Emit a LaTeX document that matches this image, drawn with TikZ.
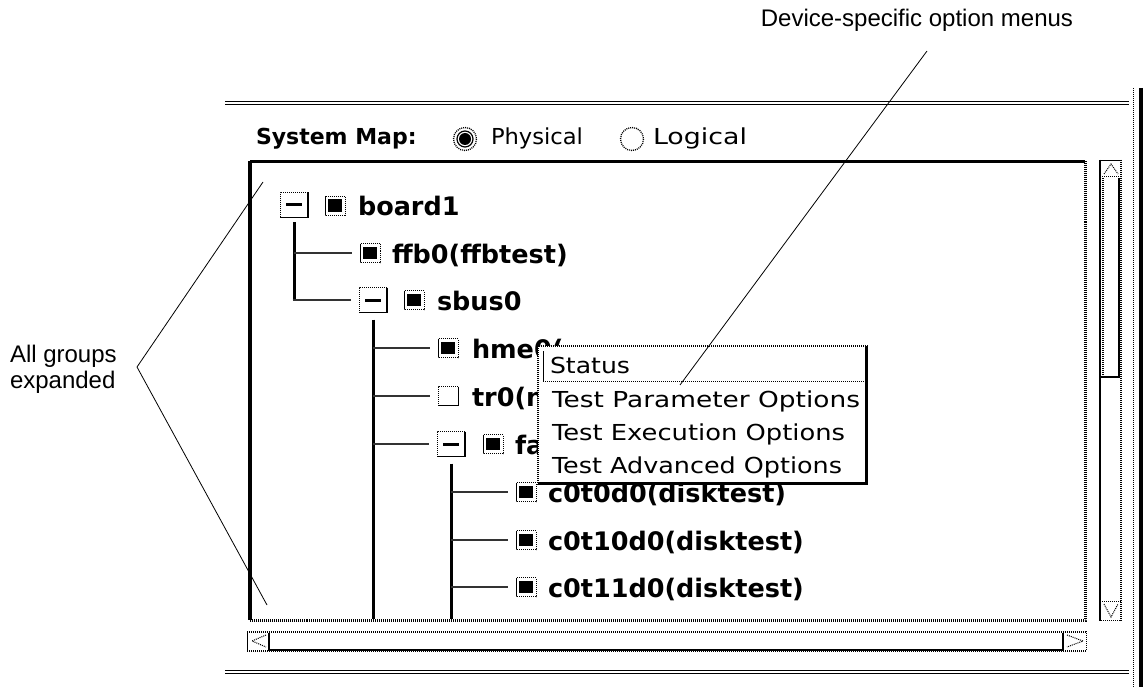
\documentclass[tikz,border=0pt]{standalone}
\usepackage{fontspec}
\usepackage{graphicx}
\setmainfont{DejaVu Sans}
\newfontfamily\annotfont{Liberation Sans}
\newcommand{\wfit}[2]{\resizebox{#1}{\height}{#2}}
\tikzset{
  lbl/.style={inner sep=0pt, outer sep=0pt, anchor=base west},
  treetxt/.style={lbl, font=\bfseries\fontsize{25.5}{30}\selectfont},
  uitxt/.style={lbl, font=\fontsize{22}{26}\selectfont},
  uibold/.style={lbl, font=\bfseries\fontsize{22}{26}\selectfont},
  menutxt/.style={lbl, font=\fontsize{22}{26}\selectfont},
  annot/.style={inner sep=0pt, outer sep=0pt, font=\annotfont\fontsize{24}{26}\selectfont},
  leader/.style={line width=0.8pt},
  dotted1/.style={line width=1pt, dash pattern=on 1pt off 1pt},
  dottedthick/.style={line width=3pt, dash pattern=on 1pt off 1pt},
  treeline/.style={line width=3pt},
  branch/.style={line width=2.6pt, black!80},
  expnode/.style={inner sep=0pt, outer sep=0pt, minimum width=28pt, minimum height=25pt, fill=white},
  iconnode/.style={inner sep=0pt, outer sep=0pt, minimum width=20pt, minimum height=19pt, fill=white},
}
\newcommand{\expandbox}[3]{%
  \node[expnode] (#1) at (#2,#3) {};
  \draw[dotted1] (#1.south west) -- (#1.north west) -- (#1.north east);
  \draw[line width=1.3pt] (#1.north east) -- (#1.south east) -- (#1.south west);
  \draw[line width=3pt] ([xshift=6pt]#1.west) -- ([xshift=-6pt]#1.east);
}
\newcommand{\devicon}[3]{%
  \node[iconnode] (#1) at (#2,#3) {};
  \draw[dotted1] (#1.north west) rectangle (#1.south east);
  \draw[line width=0.8pt] ([shift={(0.5pt,-0.5pt)}]#1.north west) -- ([shift={(0.5pt,0.5pt)}]#1.south west);
  \fill ([shift={(3pt,-3pt)}]#1.north west) rectangle ([shift={(-3.5pt,3.5pt)}]#1.south east);
}
\newcommand{\emptyicon}[3]{%
  \node[iconnode] (#1) at (#2,#3) {};
  \draw[dotted1] (#1.south west) -- (#1.north west) -- (#1.north east);
  \draw[line width=1pt] (#1.north east) -- (#1.south east) -- (#1.south west);
}
\begin{document}
\begin{tikzpicture}[x=1pt,y=-1pt]
\useasboundingbox (0,0) rectangle (1143,687);
\fill[white] (0,0) rectangle (1143,687);

% ---- window frame ----
\draw[line width=1.3pt] (225,101.3) -- (1129,101.3);
\draw[line width=1.3pt] (225,104.5) -- (1129,104.5);
\draw[line width=1.3pt] (225,670.3) -- (1129,670.3);
\draw[line width=1.3pt] (225,673.5) -- (1129,673.5);
\draw[dotted1, line width=1.5pt] (1133.5,88) -- (1133.5,687);
\draw[line width=4pt] (1140.5,88) -- (1140.5,687);

% ---- system map row ----
\node[uibold] (sysmap) at (256,145) {System Map:};
\node[inner sep=0pt, minimum size=23pt, circle] (radP) at (465,139) {};
\draw[dotted1, line width=1.3pt] (radP) circle (11.5);
\draw[line width=1.2pt] (radP) circle (8);
\fill (radP) circle (6);
\node[uitxt] (phys) at (491,145) {\wfit{92pt}{Physical}};
\node[inner sep=0pt, minimum size=23pt, circle] (radL) at (632,139) {};
\draw[dotted1, line width=1.3pt] (radL) circle (11.5);
\node[uitxt] (logi) at (653,145) {\wfit{94pt}{Logical}};

% ---- tree box ----
\coordinate (boxNW) at (250,161.5);
\coordinate (boxNE) at (1085,161.5);
\coordinate (boxSE) at (1085,620);
\coordinate (boxSW) at (250,620);
\draw[dottedthick] (boxNE) -- (boxSE) -- (boxSW);
\draw[line width=3pt] (boxNE) -- (boxNW);
\draw[line width=4pt] (boxNW) -- (boxSW);

\begin{scope}
\clip (252,164) rectangle (1083,618.5);
% row 1
\expandbox{e1}{294}{205}
\devicon{i1}{335}{206}
\node[treetxt] (t1) at (358,215) {board1};
% row 2
\devicon{i2}{370}{253}
\node[treetxt] (t2) at (392,263) {ffb0(ffbtest)};
% row 3
\expandbox{e3}{373}{300}
\devicon{i3}{414}{300}
\node[treetxt] (t3) at (437,310) {sbus0};
% row 4
\devicon{i4}{448}{348}
\node[treetxt] (t4) at (472,358) {hme0(};
% row 5
\emptyicon{i5}{448}{396}
\node[treetxt] (t5) at (472,406) {tr0(n};
% row 6
\expandbox{e6}{451}{444}
\devicon{i6}{493}{444}
\node[treetxt] (t6) at (515,454) {fa};
% rows 7-9
\devicon{i7}{526}{492}
\node[treetxt] (t7) at (548,502) {c0t0d0(disktest)};
\devicon{i8}{526}{540}
\node[treetxt] (t8) at (548,550) {c0t10d0(disktest)};
\devicon{i9}{526}{587}
\node[treetxt] (t9) at (548,597) {c0t11d0(disktest)};

% connectors
\coordinate (l2end) at (e3.south |- boxSW);
\coordinate (l3end) at (e6.south |- boxSW);
\draw[treeline] ([yshift=-5pt]e1.south) -- (e1.south |- e3.west);
\draw[branch, shorten >=8pt] (e1.south |- i2.west) -- (i2.west);
\draw[branch, shorten >=8pt] ([xshift=-1.5pt]e1.south |- e3.west) -- (e3.west);
\draw[treeline] ([yshift=-7pt]e3.south) -- (l2end);
\draw[branch, shorten >=8pt] (e3.south |- i4.west) -- (i4.west);
\draw[branch, shorten >=8pt] (e3.south |- i5.west) -- (i5.west);
\draw[branch, shorten >=8pt] (e3.south |- e6.west) -- (e6.west);
\draw[treeline] ([yshift=-7pt]e6.south) -- (l3end);
\draw[branch, shorten >=8pt] (e6.south |- i7.west) -- (i7.west);
\draw[branch, shorten >=8pt] (e6.south |- i8.west) -- (i8.west);
\draw[branch, shorten >=8pt] (e6.south |- i9.west) -- (i9.west);
\end{scope}

% ---- popup menu ----
\node[inner sep=0pt, outer sep=0pt, minimum width=330pt, minimum height=139pt, fill=white, anchor=north west] (menu) at (538,346) {};
\draw[dotted1, line width=1.5pt] (menu.south west) -- (menu.north west) -- (menu.north east);
\draw[line width=3pt] ([xshift=-1.5pt]menu.north east) -- ([shift={(-1.5pt,1.5pt)}]menu.south east) -- ([yshift=1.5pt]menu.south west);
\coordinate (stA) at (543,351);
\coordinate (stB) at (543,381);
\coordinate (stC) at (865,381);
\draw[line width=1pt] (stA) -- (stB);
\draw[dotted1] (stB) -- (stC);
\node[menutxt] (m1) at (550,373) {\wfit{80pt}{Status}};
\node[menutxt] (m2) at (552,407) {\wfit{308pt}{Test Parameter Options}};
\node[menutxt] (m3) at (552,440) {\wfit{293pt}{Test Execution Options}};
\node[menutxt] (m4) at (552,473) {\wfit{290pt}{Test Advanced Options}};

% ---- vertical scrollbar ----
\draw[line width=1.5pt] (1100,160) -- (1100,621);
\draw[dotted1, line width=1.5pt] (1121,160) -- (1121,621);
\draw[line width=1pt] (1099,160.5) -- (1122,160.5);
\draw[dotted1] (1100,177) -- (1121,177);
\draw[dotted1] (1104,174) -- (1111,164) -- (1118,174);
\draw[dottedthick, line width=2.5pt] (1103,178) -- (1103,377);
\draw[line width=1.5pt] (1119,178) -- (1119,377) -- (1101,377);
\draw[dotted1] (1100,601) -- (1121,601);
\draw[dotted1] (1104,604) -- (1111,617) -- (1118,604);
\draw[dotted1, line width=1.5pt] (1099,620.5) -- (1122,620.5);

% ---- horizontal scrollbar ----
\draw[dotted1, line width=2pt] (247,632) -- (1087,632);
\draw[dotted1, line width=2pt] (247,650.5) -- (1087,650.5);
\draw[line width=1pt] (247.5,631) -- (247.5,651);
\draw[dotted1] (1086.5,631) -- (1086.5,651);
\draw[line width=2pt] (269,633) -- (269,649.5) -- (1063,649.5) -- (1063,633);
\draw[dotted1] (266,635) -- (252,641) -- (266,647);
\draw[dotted1] (1067,635) -- (1083,641) -- (1067,647);

% ---- annotations ----
\node[annot, anchor=base east] (dso) at (1073,27) {Device-specific option menus};
\coordinate (dsoTop) at (927,51);
\coordinate (dsoTip) at (680,385);
\draw[leader] (dsoTop) -- (dsoTip);
\node[annot, anchor=north west, align=left] (age) at (10,345.5) {All groups\\expanded};
\coordinate (apex) at (137,367);
\coordinate (ageTop) at (263,182);
\coordinate (ageBot) at (267,605);
\draw[leader] (ageTop) -- (apex) -- (ageBot);
\end{tikzpicture}
\end{document}
